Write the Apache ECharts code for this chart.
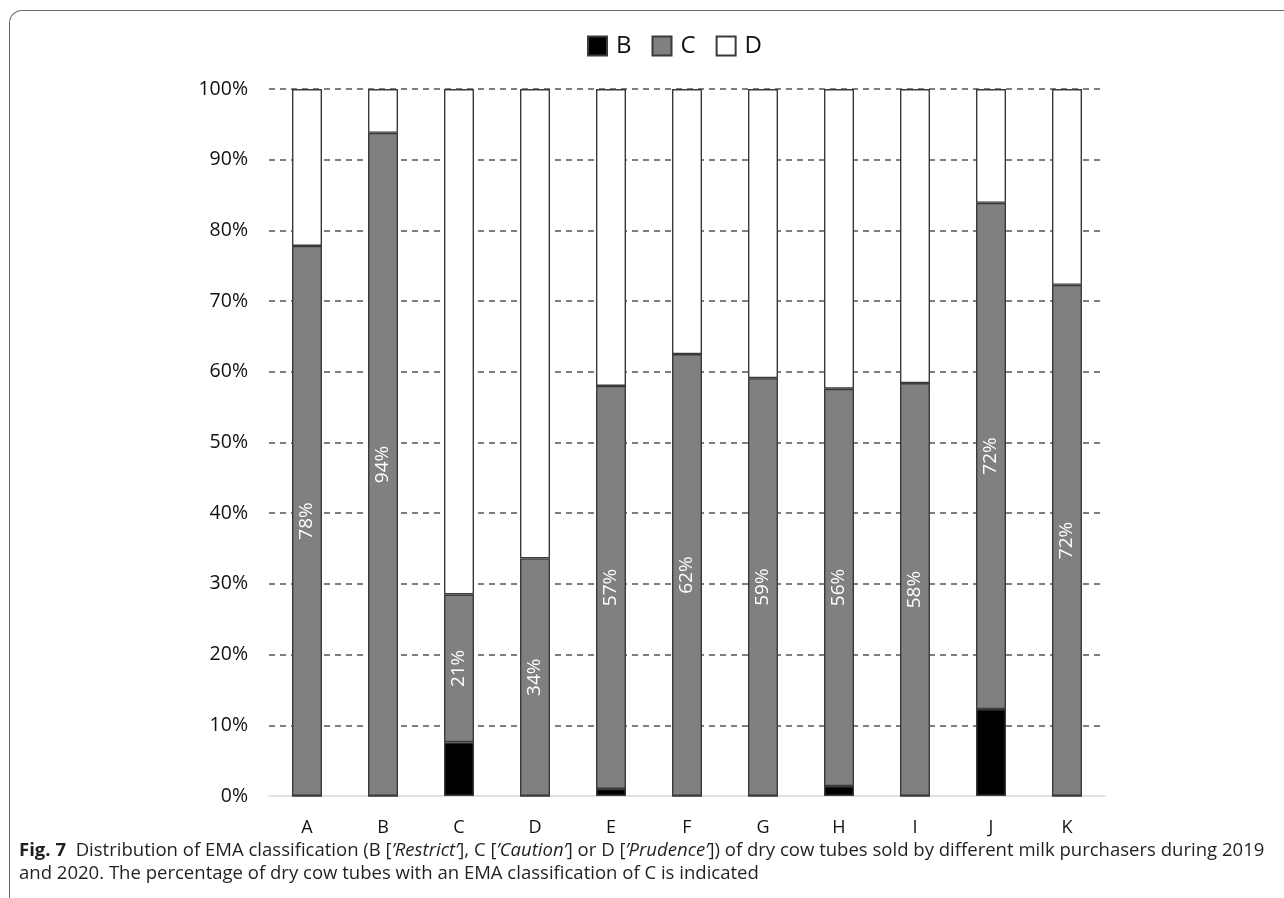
<!DOCTYPE html>
<html>
<head>
<meta charset="utf-8">
<script src="https://cdn.jsdelivr.net/npm/echarts@6/dist/echarts.min.js"></script>
<style>
  html, body { margin: 0; padding: 0; background: #fff; }
  #wrap { position: relative; width: 1284px; height: 898px; overflow: hidden; }
  #chart { position: absolute; left: 0; top: 0; width: 1284px; height: 898px; }
  #frame { position: absolute; left: 9px; top: 10px; width: 1300px; height: 920px;
           border-top: 1.5px solid #6a6a6a; border-left: 1.5px solid #6a6a6a; border-top-left-radius: 13px; }
  #caption { position: absolute; left: 19px; top: 837px; width: 1265px; white-space: nowrap; font-family: "Open Sans", sans-serif;
             font-size: 18.55px; line-height: 23px; color: #231f20; letter-spacing: 0px; }
  #caption b { font-weight: 700; }
</style>
</head>
<body>
<div id="wrap">
  <div id="frame"></div>
  <div id="chart"></div>
  <div id="caption"><b>Fig. 7</b>&nbsp; Distribution of EMA classification (B [<i>’Restrict’</i>], C [<i>’Caution’</i>] or D [<i>’Prudence’</i>]) of dry cow tubes sold by different milk purchasers during 2019<br>and 2020. The percentage of dry cow tubes with an EMA classification of C is indicated</div>
</div>
<script>
const categories = ['A','B','C','D','E','F','G','H','I','J','K'];
const seriesB = [0, 0, 7.6, 0, 1.0, 0, 0, 1.4, 0, 12.3, 0];
const seriesC = [77.8, 93.8, 20.9, 33.6, 57.0, 62.5, 59.1, 56.2, 58.4, 71.6, 72.3];
const seriesD = categories.map((c, i) => +(100 - seriesB[i] - seriesC[i]).toFixed(1));
const labelsC = ['78%','94%','21%','34%','57%','62%','59%','56%','58%','72%','72%'];
const yTicks = [0,10,20,30,40,50,60,70,80,90,100];

const chart = echarts.init(document.getElementById('chart'), null, { renderer: 'canvas' });
const barBorder = { borderColor: '#3a3a3a', borderWidth: 1.4 };
chart.setOption({
  animation: false,
  backgroundColor: 'transparent',
  legend: {
    top: 29, left: 582,
    itemWidth: 19, itemHeight: 19, itemGap: 20,
    icon: 'rect',
    textStyle: { fontFamily: 'Open Sans', fontSize: 24, color: '#111', padding: [0, 0, 0, 4] },
    data: ['B', 'C', 'D']
  },
  grid: { left: 269, right: 179, top: 89, bottom: 102, containLabel: false },
  xAxis: {
    type: 'category', data: categories,
    axisLine: { show: true, lineStyle: { color: '#d9d9d9', width: 1.5 } },
    axisTick: { show: false },
    axisLabel: { fontFamily: 'Open Sans', fontSize: 18, color: '#111', margin: 23 }
  },
  yAxis: {
    type: 'value', min: 0, max: 100, interval: 10,
    axisLine: { show: false }, axisTick: { show: false },
    axisLabel: { fontFamily: 'Open Sans', fontSize: 19.5, color: '#111', margin: 21,
      formatter: v => yTicks.includes(v) ? v + '%' : '' },
    splitLine: { show: true, showMinLine: false, lineStyle: { color: '#555', width: 1.5, type: [6, 5] } }
  },
  series: [
    { name: 'B', type: 'bar', stack: 'all', barWidth: 30, data: seriesB,
      itemStyle: Object.assign({ color: '#000' }, barBorder) },
    { name: 'C', type: 'bar', stack: 'all', barWidth: 30, data: seriesC,
      itemStyle: Object.assign({ color: '#808080' }, barBorder),
      label: { show: true, position: 'inside', rotate: 90, color: '#fff',
        fontFamily: 'Open Sans', fontSize: 19,
        formatter: p => labelsC[p.dataIndex] } },
    { name: 'D', type: 'bar', stack: 'all', barWidth: 30, data: seriesD,
      itemStyle: Object.assign({ color: '#fff' }, barBorder) }
  ]
});
</script>
</body>
</html>
